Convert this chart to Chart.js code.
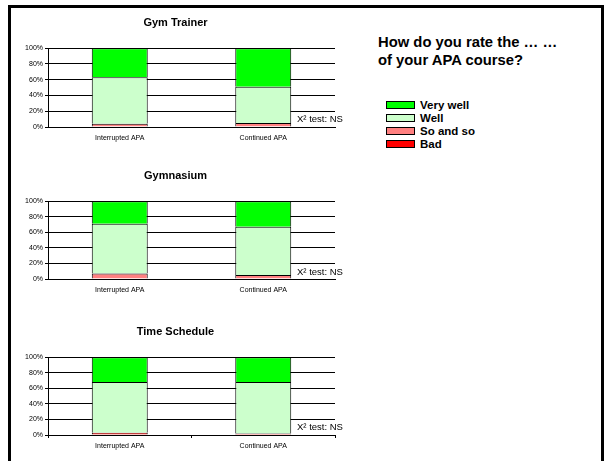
<!DOCTYPE html>
<html>
<head>
<meta charset="utf-8">
<script src="https://cdn.jsdelivr.net/npm/chart.js@4.4.0/dist/chart.umd.min.js"></script>
<style>
  body { margin: 0; background: #fff; width: 608px; height: 461px; overflow: hidden; position: relative; font-family: Arial, "Liberation Sans", sans-serif; }
  #frame { position: absolute; left: 8px; top: 5px; width: 590px; height: 480px; border: 3px solid #000; border-bottom: none; }
  .box { position: absolute; left: 0; width: 340px; }
  .chi { position: absolute; left: 297px; font-size: 9.5px; color: #000; white-space: nowrap; }
  #heading { position: absolute; left: 378px; top: 33px; font-size: 14.8px; font-weight: bold; line-height: 18.3px; color: #000; }
  #legend { position: absolute; left: 386px; top: 98px; }
  .item { height: 13.2px; display: flex; align-items: center; font-size: 11.5px; font-weight: bold; color: #000; }
  .swatch { width: 27px; height: 6px; border: 1px solid #000; margin-right: 5px; }
</style>
</head>
<body>
<div id="frame"></div>

<div class="box" style="top:8px;height:140px"><canvas id="c1" width="340" height="140"></canvas></div>
<div class="box" style="top:161px;height:139px"><canvas id="c2" width="340" height="139"></canvas></div>
<div class="box" style="top:317px;height:139px"><canvas id="c3" width="340" height="139"></canvas></div>

<div class="chi" style="top:113px">X² test: NS</div>
<div class="chi" style="top:266px">X² test: NS</div>
<div class="chi" style="top:421px">X² test: NS</div>

<div id="heading">How do you rate the … …<br>of your APA course?</div>
<div id="legend"></div>

<script>
// データ
const categories = ['Interrupted APA', 'Continued APA'];
const seriesNames = ['Bad', 'So and so', 'Well', 'Very well'];
const seriesColors = ['#ff0000', '#ff8080', '#ccffcc', '#00ff00'];
const yTicks = [0, 20, 40, 60, 80, 100];

// Gym Trainer
const trainerBad = [0, 0];
const trainerSoSo = [4, 5];
const trainerWell = [59, 46];
const trainerVeryWell = [37, 49];

// Gymnasium
const gymBad = [0, 0];
const gymSoSo = [7, 5];
const gymWell = [64, 62];
const gymVeryWell = [29, 33];

// Time Schedule
const timeBad = [3, 2];
const timeSoSo = [0, 0];
const timeWell = [65, 66];
const timeVeryWell = [32, 32];

// グラフ作成
function makeChart(id, title, bad, soSo, well, veryWell, midTick) {
    const values = [bad, soSo, well, veryWell];
    const ctx = document.getElementById(id).getContext('2d');
    return new Chart(ctx, {
        type: 'bar',
        data: {
            labels: categories,
            datasets: values.map((v, i) => ({
                label: seriesNames[i],
                data: v,
                backgroundColor: seriesColors[i],
                borderColor: '#000',
                borderWidth: 1,
                borderSkipped: 'start', // 区切り線を1本にする
                barPercentage: 0.39,
                categoryPercentage: 1.0
            }))
        },
        options: {
            responsive: false,
            animation: false,
            layout: { padding: { top: 0, right: 5, bottom: 0, left: 16 } },
            plugins: {
                legend: { display: false },
                tooltip: { enabled: false },
                title: {
                    display: true,
                    text: title,
                    color: '#000',
                    font: { family: 'Arial', size: 11, weight: 'bold' },
                    padding: { top: 8, bottom: 19 }
                }
            },
            scales: {
                x: {
                    stacked: true,
                    grid: midTick
                        ? { display: true, drawOnChartArea: false, drawTicks: true, tickLength: 3, color: '#000', offset: true }
                        : { display: false, drawTicks: false },
                    border: { display: true, color: '#000', width: 1 },
                    ticks: { color: '#000', font: { family: 'Arial', size: 7 }, padding: midTick ? 4 : 7, maxRotation: 0 },
                    afterFit: s => { s.height = 21; }
                },
                y: {
                    stacked: true,
                    min: 0,
                    max: 100,
                    afterBuildTicks: s => { s.ticks = yTicks.map(v => ({ value: v })); },
                    ticks: {
                        color: '#000',
                        font: { family: 'Arial', size: 7 },
                        padding: 2,
                        callback: v => v + '%'
                    },
                    grid: { color: '#000', lineWidth: 1, tickLength: 3 },
                    border: { display: true, color: '#000', width: 1 },
                    afterFit: s => { s.width = 32; }
                }
            }
        }
    });
}

makeChart('c1', 'Gym Trainer', trainerBad, trainerSoSo, trainerWell, trainerVeryWell, false);
makeChart('c2', 'Gymnasium', gymBad, gymSoSo, gymWell, gymVeryWell, false);
makeChart('c3', 'Time Schedule', timeBad, timeSoSo, timeWell, timeVeryWell, true);

// 凡例（上から Very well → Bad）
const legendArea = document.getElementById('legend');
for (let i = seriesNames.length - 1; i >= 0; i--) {
    const row = document.createElement('div');
    row.className = 'item';
    row.innerHTML = `<span class="swatch" style="background:${seriesColors[i]}"></span><span>${seriesNames[i]}</span>`;
    legendArea.appendChild(row);
}
</script>
</body>
</html>
